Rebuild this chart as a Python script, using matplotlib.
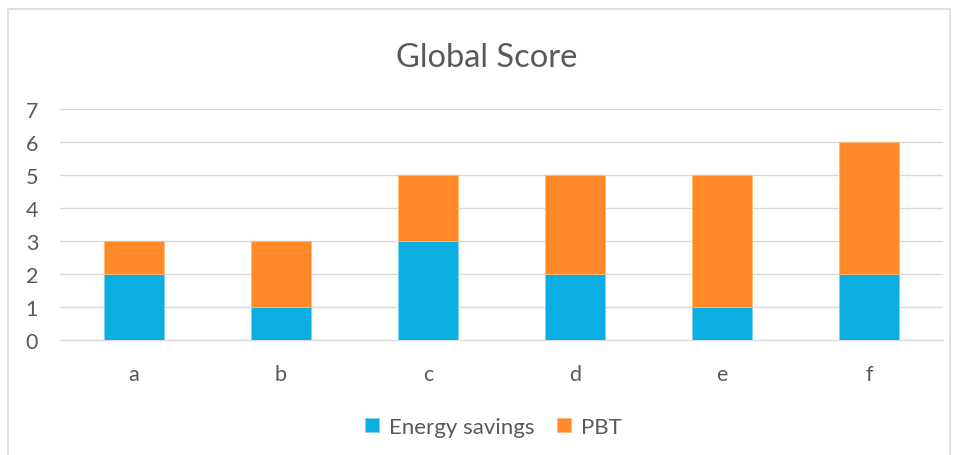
import matplotlib.pyplot as plt
import matplotlib.patches as mpatches
import numpy as np

categories = ['a', 'b', 'c', 'd', 'e', 'f']
energy_savings = [2, 1, 3, 2, 1, 2]
pbt = [1, 2, 2, 3, 4, 4]

blue = '#0AAEE0'
orange = '#FF8A27'
grey = '#595959'

plt.rcParams['font.family'] = ['Lato', 'DejaVu Sans']

fig = plt.figure(figsize=(9.58, 4.56), dpi=100)
# outer chart border
fig.patches.append(mpatches.Rectangle((8 / 958, -0.01), 942 / 958, 1 - 10 / 456 + 0.01,
                                      transform=fig.transFigure, fill=False,
                                      edgecolor='#D9D9D9', linewidth=1.2))

ax = fig.add_axes([0.063, 0.252, 0.921, 0.507])
x = np.arange(len(categories))
ax.bar(x, energy_savings, width=0.41, color=blue, edgecolor='#7fcfee', linewidth=0.6,
       label='Energy savings', zorder=3)
ax.bar(x, pbt, width=0.41, bottom=energy_savings, color=orange, edgecolor='#ffb877',
       linewidth=0.6, label='PBT', zorder=3)

ax.set_xlim(-0.5, len(categories) - 0.5)
ax.set_ylim(0, 7)
ax.set_yticks(range(8))
ax.set_xticks(x)
ax.set_xticklabels(categories)
ax.grid(axis='y', color='#D9D9D9', linewidth=1)
ax.set_axisbelow(True)
for s in ['top', 'right', 'left']:
    ax.spines[s].set_visible(False)
ax.spines['bottom'].set_color('#D9D9D9')
ax.tick_params(axis='both', length=0, labelsize=15.5, colors=grey)
ax.tick_params(axis='y', pad=16)
ax.tick_params(axis='x', pad=17)

fig.text(0.508, 0.872, 'Global Score', ha='center', va='center', fontsize=23.5, color=grey)
fig.legend(loc='center', bbox_to_anchor=(0.515, 0.062), ncol=2, frameon=False,
           fontsize=16, labelcolor=grey, handlelength=0.65, handleheight=0.65,
           columnspacing=1.0, handletextpad=0.45)

fig.savefig('out.png', dpi=100)
